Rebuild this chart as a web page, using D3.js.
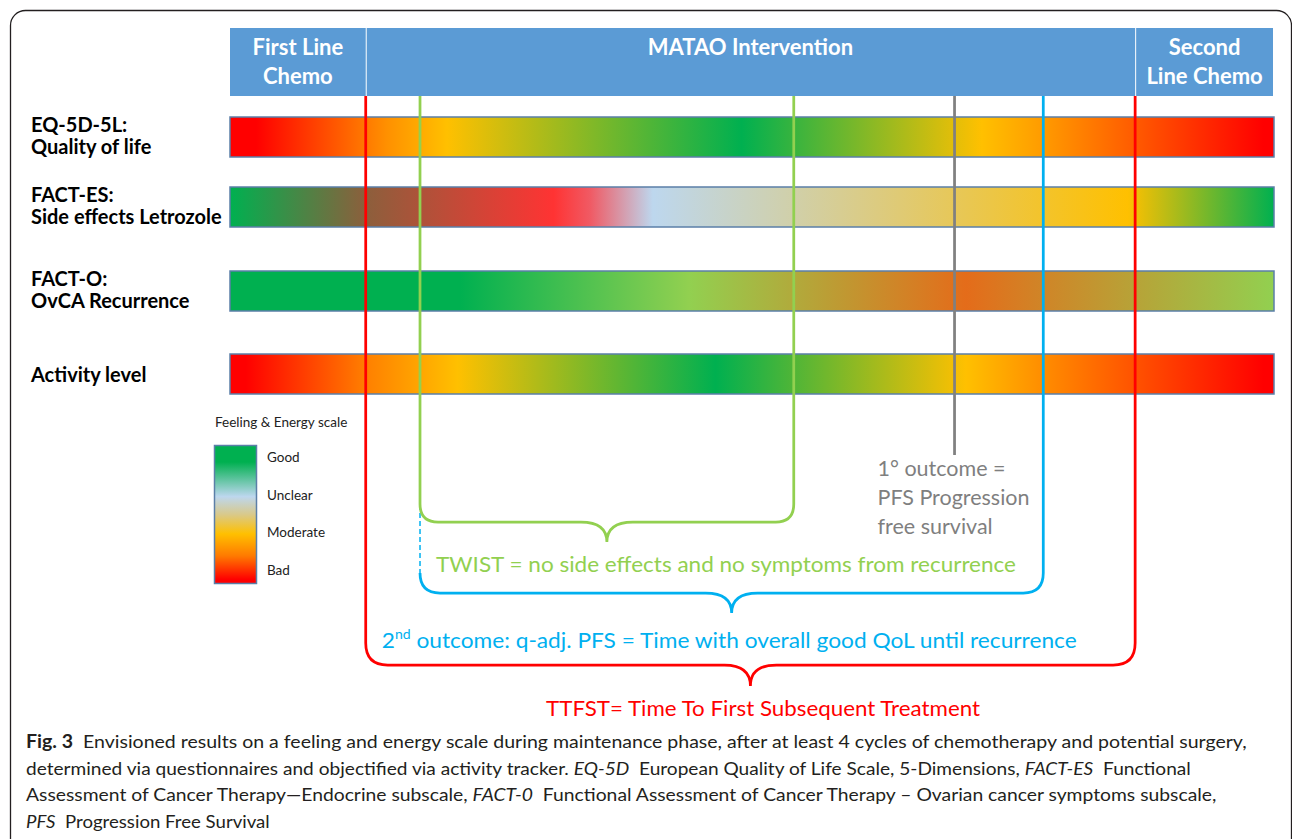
<!DOCTYPE html>
<html>
<head>
<meta charset="utf-8">
<script src="https://cdn.jsdelivr.net/npm/d3@7"></script>
<style>
body { margin: 0; background: #fff; }
svg { display: block; font-family: Lato, "Open Sans", sans-serif; }
</style>
</head>
<body>
<div class="forSvg"></div>
<script>
// -DATA-
// timeline runs 0..100 (% of the whole treatment course)
const phaseNames = [["First Line", "Chemo"], ["MATAO Intervention"], ["Second", "Line Chemo"]];
const phaseBounds = [0, 13.0, 86.7, 100];

const rowLabels = [["EQ-5D-5L:", "Quality of life"], ["FACT-ES:", "Side effects Letrozole"], ["FACT-O:", "OvCA Recurrence"], ["Activity level"]];

// feeling along the timeline for each questionnaire: [timeline %, colour]
const qolStops = [[0, "#ff0000"], [2.5, "#ff0000"], [15, "#ff9000"], [20.8, "#ffc000"], [49, "#00b050"], [72, "#ffc000"], [78, "#ff9a00"], [99, "#ff0000"]];
const sideFxStops = [[0, "#00b050"], [13, "#8c5f3c"], [31, "#ff3333"], [34.5, "#f05a64"], [40.5, "#bdd7ee"], [62, "#dccb80"], [86, "#ffc000"], [100, "#00b050"]];
const recurrenceStops = [[0, "#00b050"], [22, "#00b050"], [44, "#92d050"], [70.5, "#e46c1a"], [100, "#92d050"]];
const activityStops = [[0, "#ff0000"], [1.5, "#ff0000"], [13.1, "#ff8000"], [21.8, "#ffc000"], [46.5, "#00b050"], [70.5, "#ffc000"], [78, "#ff8c00"], [99, "#ff0000"]];
const rowStops = [qolStops, sideFxStops, recurrenceStops, activityStops];

// legend
const legendTitle = "Feeling & Energy scale";
const legendLevels = ["Good", "Unclear", "Moderate", "Bad"];
const legendStops = [[0, "#00b050"], [12, "#00b050"], [37, "#bdd7ee"], [50, "#d9c98a"], [64, "#ffc000"], [80, "#ff7a00"], [97, "#ff0000"]];

// events on the timeline
const firstLineEnd = 13.0;
const twistStart = 18.2;
const twistEnd = 54.0;
const pfsEvent = 69.4;
const qPfsEnd = 77.9;
const secondLineStart = 86.7;

// outcome texts
const pfsText = ["1° outcome =", "PFS Progression", "free survival"];
const twistText = "TWIST = no side effects and no symptoms from recurrence";
const qPfsText = ["2", "nd", " outcome: q-adj. PFS = Time with overall good QoL until recurrence"];
const ttfstText = "TTFST= Time To First Subsequent Treatment";

// caption, [text, style]
const captionLines = [
    [["Fig. 3", "b"], ["  Envisioned results on a feeling and energy scale during maintenance phase, after at least 4 cycles of chemotherapy and potential surgery,", ""]],
    [["determined via questionnaires and objectified via activity tracker. ", ""], ["EQ-5D", "i"], ["  European Quality of Life Scale, 5-Dimensions, ", ""], ["FACT-ES", "i"], ["  Functional", ""]],
    [["Assessment of Cancer Therapy\u2014Endocrine subscale, ", ""], ["FACT-0", "i"], ["  Functional Assessment of Cancer Therapy \u2013 Ovarian cancer symptoms subscale,", ""]],
    [["PFS", "i"], ["  Progression Free Survival", ""]]
];

// -LAYOUT-
const svg_w = 1292;
const svg_h = 839;
const headerTop = 28;
const headerBottom = 96;
const barH = 40;

const colors = {
    header: "#5b9bd5",
    red: "#ff0000",
    green: "#92d050",
    blue: "#00b0f0",
    gray: "#808080",
    barStroke: "#5b7fa8"
};

const x = d3.scaleLinear().domain([0, 100]).range([230, 1274]);
const rowY = d3.scaleLinear().domain([0, 1, 2, 3]).range([117, 187, 271, 354]);

const svg = d3.select(".forSvg")
    .append("svg")
    .attr("width", svg_w)
    .attr("height", svg_h);

const defs = svg.append("defs");

// frame round the figure
svg.append("rect")
    .attr("x", 10.5)
    .attr("y", 10.5)
    .attr("width", 1281)
    .attr("height", 900)
    .attr("rx", 15)
    .attr("fill", "none")
    .attr("stroke", "#231f20")
    .attr("stroke-width", 1.3);

// -HEADER-
const phases = phaseNames.map((n, i) => ({ name: n, x0: phaseBounds[i], x1: phaseBounds[i + 1] }));

const phaseG = svg.selectAll(".phase")
    .data(phases)
    .enter()
    .append("g")
    .attr("class", "phase");

phaseG.append("rect")
    .attr("x", (d, i) => x(d.x0) + (i > 0 ? 1 : 0))
    .attr("y", headerTop)
    .attr("width", (d, i) => x(d.x1) - x(d.x0) - (i > 0 ? 1 : 0) - (i < 2 ? 0 : 1))
    .attr("height", headerBottom - headerTop)
    .attr("fill", colors.header);

phaseG.selectAll("text")
    .data(d => d.name.map((t, j) => ({ t: t, j: j, cx: (x(d.x0) + x(d.x1)) / 2 })))
    .enter()
    .append("text")
    .attr("x", d => d.cx)
    .attr("y", d => 55 + d.j * 29)
    .attr("text-anchor", "middle")
    .attr("fill", "#fff")
    .attr("font-weight", "bold")
    .attr("font-size", "22px")
    .text(d => d.t);

// -GRADIENT BARS-
rowStops.forEach((stops, i) => {
    const g = defs.append("linearGradient")
        .attr("id", "grad" + i)
        .attr("gradientUnits", "userSpaceOnUse")
        .attr("x1", x(0)).attr("x2", x(100))
        .attr("y1", 0).attr("y2", 0);
    g.selectAll("stop")
        .data(stops)
        .enter()
        .append("stop")
        .attr("offset", d => d[0] / 100)
        .attr("stop-color", d => d[1]);
});

svg.selectAll(".bar")
    .data(rowStops)
    .enter()
    .append("rect")
    .attr("class", "bar")
    .attr("x", x(0))
    .attr("y", (d, i) => rowY(i))
    .attr("width", x(100) - x(0))
    .attr("height", barH)
    .attr("fill", (d, i) => "url(#grad" + i + ")")
    .attr("stroke", colors.barStroke)
    .attr("stroke-width", 1.5);

// row labels
const labelG = svg.selectAll(".rowlabel")
    .data(rowLabels)
    .enter()
    .append("text")
    .attr("class", "rowlabel")
    .attr("font-weight", "bold")
    .attr("font-size", "20px")
    .attr("fill", "#000");

labelG.selectAll("tspan")
    .data((d, i) => d.map((t, j) => ({ t: t, j: j, n: d.length, i: i })))
    .enter()
    .append("tspan")
    .attr("x", 31)
    .attr("y", d => {
        const c = rowY(d.i) + barH / 2;
        return d.n === 1 ? c + 8 : c - 5 + d.j * 22;
    })
    .text(d => d.t);

// -LEGEND-
const lg = defs.append("linearGradient")
    .attr("id", "legendGrad")
    .attr("x1", 0).attr("x2", 0)
    .attr("y1", 0).attr("y2", 1);
lg.selectAll("stop")
    .data(legendStops)
    .enter()
    .append("stop")
    .attr("offset", d => d[0] / 100)
    .attr("stop-color", d => d[1]);

svg.append("text")
    .attr("x", 215)
    .attr("y", 427)
    .attr("font-size", "13.5px")
    .attr("fill", "#222")
    .text(legendTitle);

svg.append("rect")
    .attr("x", 214.5)
    .attr("y", 445.5)
    .attr("width", 42)
    .attr("height", 138)
    .attr("fill", "url(#legendGrad)")
    .attr("stroke", colors.barStroke)
    .attr("stroke-width", 1.5);

const legendY = d3.scalePoint().domain(legendLevels).range([457, 570]);

svg.selectAll(".legendlabel")
    .data(legendLevels)
    .enter()
    .append("text")
    .attr("class", "legendlabel")
    .attr("x", 267)
    .attr("y", d => legendY(d) + 5)
    .attr("font-size", "13.5px")
    .attr("fill", "#222")
    .text(d => d);

// -BRACKETS-
function bracePath(xl, xr, yl, yr, yb, r, w, h) {
    const m = (xl + xr) / 2;
    const p = d3.path();
    p.moveTo(xl, yl);
    p.lineTo(xl, yb - r);
    p.quadraticCurveTo(xl, yb, xl + r, yb);
    p.lineTo(m - w, yb);
    p.quadraticCurveTo(m, yb, m, yb + h);
    p.quadraticCurveTo(m, yb, m + w, yb);
    p.lineTo(xr - r, yb);
    p.quadraticCurveTo(xr, yb, xr, yb - r);
    p.lineTo(xr, yr);
    return p.toString();
}

const greenY = 522;
const blueY = 593;
const redY = 665;

// gray PFS marker
svg.append("line")
    .attr("x1", x(pfsEvent)).attr("x2", x(pfsEvent))
    .attr("y1", headerBottom).attr("y2", 455)
    .attr("stroke", colors.gray)
    .attr("stroke-width", 2.75);

// red: TTFST
svg.append("path")
    .attr("d", bracePath(x(firstLineEnd), x(secondLineStart), headerBottom, headerBottom, redY, 22, 26, 21))
    .attr("fill", "none")
    .attr("stroke", colors.red)
    .attr("stroke-width", 2.75);

// blue: q-adj PFS
svg.append("line")
    .attr("x1", x(twistStart)).attr("x2", x(twistStart))
    .attr("y1", greenY - 17).attr("y2", blueY - 20)
    .attr("stroke", colors.blue)
    .attr("stroke-width", 1.5)
    .attr("stroke-dasharray", "5,3");

svg.append("path")
    .attr("d", bracePath(x(twistStart), x(qPfsEnd), blueY - 20, headerBottom, blueY, 20, 26, 20))
    .attr("fill", "none")
    .attr("stroke", colors.blue)
    .attr("stroke-width", 2.75);

// green: TWIST
svg.append("path")
    .attr("d", bracePath(x(twistStart), x(twistEnd), headerBottom, headerBottom, greenY, 18, 26, 20))
    .attr("fill", "none")
    .attr("stroke", colors.green)
    .attr("stroke-width", 2.75);

// -OUTCOME TEXTS-
svg.selectAll(".pfs")
    .data(pfsText)
    .enter()
    .append("text")
    .attr("class", "pfs")
    .attr("x", x(pfsEvent) - 77)
    .attr("y", (d, i) => 476 + i * 29)
    .attr("font-size", "21.5px")
    .attr("fill", "#7f7f7f")
    .text(d => d);

svg.append("text")
    .attr("x", x(twistStart) + 16)
    .attr("y", 572)
    .attr("font-size", "21px")
    .attr("fill", colors.green)
    .attr("textLength", 580)
    .attr("lengthAdjust", "spacingAndGlyphs")
    .text(twistText);

const qt = svg.append("text")
    .attr("x", x(firstLineEnd) + 16)
    .attr("y", 648)
    .attr("font-size", "21px")
    .attr("fill", colors.blue)
    .attr("textLength", 695)
    .attr("lengthAdjust", "spacingAndGlyphs");
qt.append("tspan").text(qPfsText[0]);
qt.append("tspan").attr("dy", -9).attr("font-size", "13px").text(qPfsText[1]);
qt.append("tspan").attr("dy", 9).text(qPfsText[2]);

svg.append("text")
    .attr("x", 546)
    .attr("y", 716)
    .attr("font-size", "21px")
    .attr("fill", colors.red)
    .attr("textLength", 434)
    .attr("lengthAdjust", "spacingAndGlyphs")
    .text(ttfstText);

// -CAPTION-
// each line squeezed / stretched to the width it has in the figure
const capLeft = 26;
const capWidths = [1222, 1166, 1191, 244];
const capBase = [748, 775, 801, 828];

const cap = svg.selectAll(".caption")
    .data(captionLines)
    .enter()
    .append("text")
    .attr("class", "caption")
    .attr("font-size", "18px")
    .attr("fill", "#231f20")
    .style("white-space", "pre");

cap.selectAll("tspan")
    .data(d => d)
    .enter()
    .append("tspan")
    .attr("font-weight", d => d[1] === "b" ? "bold" : null)
    .attr("font-style", d => d[1] === "i" ? "italic" : null)
    .text(d => d[0]);

cap.attr("transform", function(d, i) {
    const len = this.getComputedTextLength();
    return "translate(" + capLeft + "," + capBase[i] + ") scale(" + (capWidths[i] / len) + ",1)";
});
</script>
</body>
</html>
